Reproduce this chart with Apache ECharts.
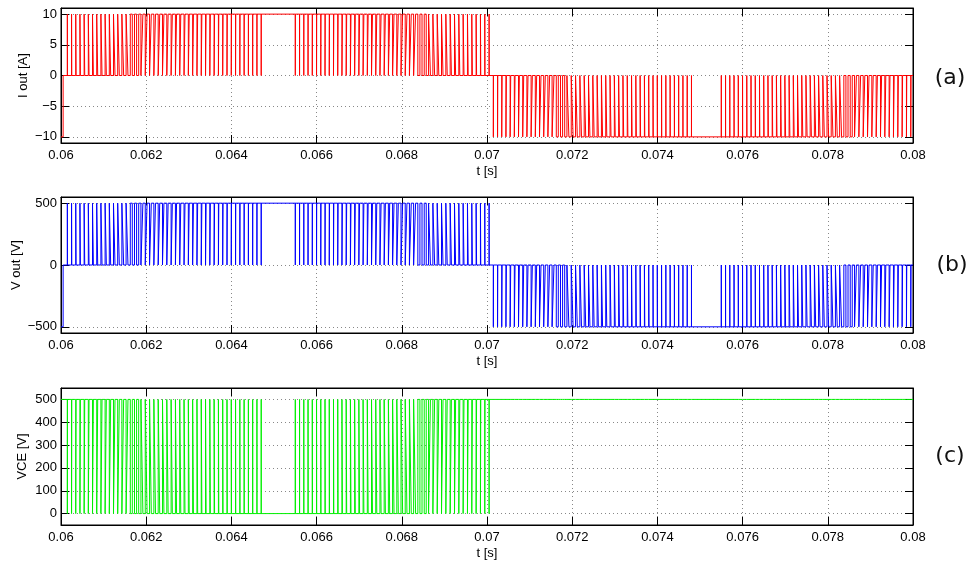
<!DOCTYPE html>
<html>
<head>
<meta charset="utf-8">
<script src="https://cdn.jsdelivr.net/npm/echarts@6/dist/echarts.min.js"></script>
<style>
html,body{margin:0;padding:0;background:#fff;}
#chart{width:973px;height:562px;}
</style>
</head>
<body>
<div id="chart"></div>
<script>
// ---- data ----
const xTicks = [0.06, 0.062, 0.064, 0.066, 0.068, 0.07, 0.072, 0.074, 0.076, 0.078, 0.08];
const iTicks = [-10, -5, 0, 5, 10];
const vTicks = [-500, 0, 500];
const vceTicks = [0, 100, 200, 300, 400, 500];

const carrierPeriod = 0.0001;          // switching period (s)
const halfStarts = [0.0601, 0.0701];   // start of positive / negative half-cycle pulse trains
const leadIn = [0.06, 0.06005];        // tail of previous negative pulse at the window start
const iAmp = 10;                       // A
const vAmp = 500;                      // V
const vceAmp = 500;                    // V

// duty cycle of each switching period (positive half-cycle)
const posDuty = [
 0.016,0.047,0.079,0.110,0.141,0.173,0.204,0.234,0.265,0.295,
 0.325,0.355,0.384,0.413,0.442,0.470,0.497,0.525,0.551,0.577,
 0.603,0.628,0.652,0.676,0.699,0.721,0.743,0.763,0.784,0.803,
 0.821,0.839,0.856,0.872,0.887,0.902,0.915,0.928,0.939,0.950,
 0.960,0.968,0.976,0.983,0.989,0.994,1,1,1,1,
 1,1,1,1,0.994,0.989,0.983,0.976,0.968,0.960,
 0.950,0.939,0.928,0.915,0.902,0.887,0.872,0.856,0.839,0.821,
 0.803,0.784,0.763,0.743,0.721,0.699,0.676,0.652,0.628,0.603,
 0.577,0.551,0.525,0.497,0.470,0.442,0.413,0.384,0.355,0.325,
 0.295,0.265,0.234,0.204,0.173,0.141,0.110,0.079,0.047,0.016
];
// duty cycle of each switching period (negative half-cycle)
const negDuty = [
 0.016,0.047,0.079,0.110,0.141,0.173,0.204,0.234,0.265,0.295,
 0.325,0.355,0.384,0.413,0.442,0.470,0.497,0.525,0.551,0.577,
 0.603,0.628,0.652,0.676,0.699,0.721,0.743,0.763,0.784,0.803,
 0.821,0.839,0.856,0.872,0.887,0.902,0.915,0.928,0.939,0.950,
 0.960,0.968,0.976,0.983,0.989,0.994,0.997,1,1,1,
 1,1,1,1,0.994,0.989,0.983,0.976,0.968,0.960,
 0.950,0.939,0.928,0.915,0.902,0.887,0.872,0.856,0.839,0.821,
 0.803,0.784,0.763,0.743,0.721,0.699,0.676,0.652,0.628,0.603,
 0.577,0.551,0.525,0.497,0.470,0.442,0.413,0.384,0.355,0.325,
 0.295,0.265,0.234,0.204,0.173,0.141,0.110,0.079,0.047,0.016
];

// ---- build switching waveform (normalised level -1 / 0 / +1) ----
function buildSwitching() {
  const tr = [[leadIn[1], 0]];
  const T = carrierPeriod;
  const addHalf = (start, duty, sign) => {
    duty.forEach((d, k) => {
      if (d <= 0) return;
      const t0 = start + k * T;
      tr.push([t0 + (1 - d) * T / 2, sign]);
      tr.push([t0 + (1 + d) * T / 2, 0]);
    });
  };
  addHalf(halfStarts[0], posDuty, 1);
  addHalf(halfStarts[1], negDuty, -1);
  const merged = [];
  tr.forEach(x => {
    const last = merged[merged.length - 1];
    if (last && Math.abs(last[0] - x[0]) < 1e-10) { merged.pop(); return; }
    merged.push(x);
  });
  const tEnd = xTicks[xTicks.length - 1];
  let level = -1;
  const pts = [[leadIn[0], -1]];
  merged.forEach(([t, L]) => {
    if (t >= tEnd) return;
    pts.push([t, level], [t, L]);
    level = L;
  });
  pts.push([tEnd, level]);
  return pts;
}
const sw = buildSwitching();
const iOut = sw.map(([t, s]) => [t, s * iAmp]);
const vOut = sw.map(([t, s]) => [t, s * vAmp]);
const vce = sw.map(([t, s]) => [t, s === 1 ? 0 : vceAmp]);

// ---- chart ----
const FONT = 'Liberation Sans, Arial, sans-serif';
const grids = [
  {left: 61, top: 8, width: 852, height: 135},
  {left: 61, top: 197, width: 852, height: 136},
  {left: 61, top: 388, width: 852, height: 137}
];
const yDefs = [
  {name: 'I out [A]', min: -11, max: 11, ticks: iTicks, gap: 31},
  {name: 'V out [V]', min: -550, max: 550, ticks: vTicks, gap: 38},
  {name: 'VCE [V]', min: -50, max: 550, ticks: vceTicks, gap: 32}
];
const gridLine = {show: true, lineStyle: {color: '#888', width: 1, type: [1, 3]}};
const xAxes = [], yAxes = [];
grids.forEach((g, i) => {
  const common = {gridIndex: i, type: 'value', min: xTicks[0], max: xTicks[xTicks.length - 1], interval: 0.002};
  xAxes.push(Object.assign({}, common, {
    position: 'bottom',
    name: 't [s]', nameLocation: 'middle', nameGap: 22, nameMoveOverlap: false,
    nameTextStyle: {fontSize: 13, color: '#000', fontFamily: FONT},
    axisLine: {show: true, onZero: false, lineStyle: {color: '#000', width: 1}},
    axisTick: {show: true, inside: true, length: 8, lineStyle: {color: '#000'}},
    axisLabel: {show: true, fontSize: 13, color: '#000', fontFamily: FONT, margin: 6,
      showMinLabel: true, showMaxLabel: true,
      formatter: v => String(parseFloat(v.toFixed(3)))},
    splitLine: gridLine
  }));
  xAxes.push(Object.assign({}, common, {
    position: 'top',
    axisLine: {show: true, onZero: false, lineStyle: {color: '#000', width: 1}},
    axisTick: {show: true, inside: true, length: 8, lineStyle: {color: '#000'}},
    axisLabel: {show: false},
    splitLine: {show: false}
  }));
  const y = yDefs[i];
  yAxes.push({
    gridIndex: i, type: 'value', position: 'left', min: y.min, max: y.max,
    name: y.name, nameLocation: 'middle', nameGap: y.gap, nameMoveOverlap: false,
    nameTextStyle: {fontSize: 13, color: '#000', fontFamily: FONT},
    axisLine: {show: true, onZero: false, lineStyle: {color: '#000', width: 1}},
    axisTick: {show: true, inside: true, length: 8, lineStyle: {color: '#000'}, customValues: y.ticks},
    axisLabel: {show: true, fontSize: 13, color: '#000', fontFamily: FONT, margin: 4,
      customValues: y.ticks, formatter: v => String(v).replace('-', '\u2212')},
    splitLine: gridLine
  });
  yAxes.push({
    gridIndex: i, type: 'value', position: 'right', min: y.min, max: y.max,
    axisLine: {show: true, onZero: false, lineStyle: {color: '#000', width: 1}},
    axisTick: {show: true, inside: true, length: 8, lineStyle: {color: '#000'}, customValues: y.ticks},
    axisLabel: {show: false},
    splitLine: {show: false}
  });
});

const mkSeries = (data, color, i) => ({
  type: 'line', data: data, xAxisIndex: i * 2, yAxisIndex: i * 2,
  showSymbol: false, symbol: 'none', smooth: false, sampling: null,
  lineStyle: {color: color, width: 1}, itemStyle: {color: color},
  animation: false, silent: true, clip: true
});

const chart = echarts.init(document.getElementById('chart'), null, {renderer: 'canvas'});
chart.setOption({
  animation: false,
  backgroundColor: '#fff',
  grid: grids.map(g => Object.assign({show: true, borderColor: '#000', borderWidth: 1, backgroundColor: '#fff'}, g)),
  xAxis: xAxes,
  yAxis: yAxes,
  series: [
    mkSeries(iOut, '#ff0000', 0),
    mkSeries(vOut, '#0000ff', 1),
    mkSeries(vce, '#00f000', 2)
  ],
  graphic: [
    {type: 'text', x: 950, y: 78, style: {text: '(a)', fontSize: 22, fontFamily: 'DejaVu Sans', fill: '#111', align: 'center', verticalAlign: 'middle'}},
    {type: 'text', x: 952, y: 265, style: {text: '(b)', fontSize: 22, fontFamily: 'DejaVu Sans', fill: '#111', align: 'center', verticalAlign: 'middle'}},
    {type: 'text', x: 950, y: 456, style: {text: '(c)', fontSize: 22, fontFamily: 'DejaVu Sans', fill: '#111', align: 'center', verticalAlign: 'middle'}}
  ]
});
</script>
</body>
</html>
